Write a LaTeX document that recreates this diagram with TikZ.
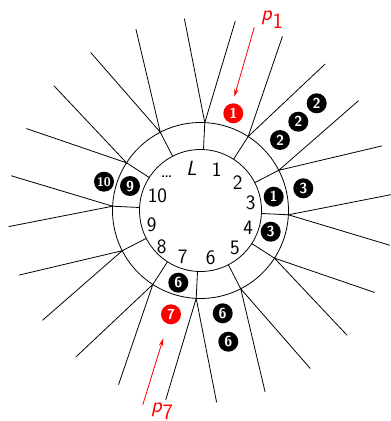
\documentclass[tikz,border=0pt]{standalone}
\usetikzlibrary{arrows.meta}
\begin{document}
\begin{tikzpicture}[x=1pt,y=1pt,
  line width=0.8pt,
  dot/.style={circle,fill=black,text=white,inner sep=0pt,minimum size=20pt,
    font=\sffamily\bfseries\fontsize{14.5}{14.5}\selectfont},
  rdot/.style={dot,fill=red},
  num/.style={font=\sffamily\fontsize{20.5}{22}\selectfont,inner sep=0pt},
  plab/.style={text=red,font=\sffamily\fontsize{22}{24}\selectfont,inner sep=0pt},
  parr/.style={red,-{Stealth[length=8pt,width=4.5pt]},line width=0.8pt}]
\useasboundingbox (-200.5,-210.5) rectangle (190.5,210.5);
\draw (0,0) circle (61);
\draw (0,0) circle (88);
\foreach \k in {0,...,11}{
  \pgfmathsetmacro\a{87.2-30*\k}
  \pgfmathsetmacro\b{\a+7.6}
  \pgfmathsetmacro\c{\a-7.6}
  \coordinate (i\k) at (\a:61);
  \coordinate (j\k) at (\a:88);
  \coordinate (l\k) at (\b:192.5);
  \coordinate (r\k) at (\c:192.5);
  \draw (i\k) -- (j\k);
  \draw (l\k) -- (j\k) -- (r\k);
}
% inner labels
\node[num] (nL) at (-8.8,42.2) {\textit{L}};
\node[num] (n1) at (16.2,41.2) {1};
\node[num] (n2) at (37.2,27.8) {2};
\node[num] (n3) at (50.2,8.2) {3};
\node[num] (n4) at (47.8,-17.2) {4};
\node[num] (n5) at (34.5,-37.8) {5};
\node[num] (n6) at (10.2,-47.2) {6};
\node[num] (n7) at (-17.8,-46.2) {7};
\node[num] (n8) at (-38.8,-36.2) {8};
\node[num] (n9) at (-48.8,-13.8) {9};
\node[num] (n10) at (-43,14.7) {10};
\node[num,anchor=base] (ndots) at (-33.8,33) {\dots};
% circled markers
\node[rdot] (m1r) at (32.8,97.2) {1};
\node[dot] (m2a) at (79.5,70.5) {2};
\node[dot] (m2b) at (97.8,88.8) {2};
\node[dot] (m2c) at (116.2,107.2) {2};
\node[dot] (m3o) at (102.8,22.2) {3};
\node[dot] (m1b) at (73.2,13.8) {1};
\node[dot] (m3r) at (70.2,-21.2) {3};
\node[dot] (m6r) at (-22.2,-72.2) {6};
\node[rdot] (m7r) at (-29.5,-103.8) {7};
\node[dot] (m6a) at (22.2,-102.8) {6};
\node[dot] (m6b) at (27.8,-131.2) {6};
\node[dot] (m9) at (-70.5,24.5) {9};
\node[dot,font=\sffamily\bfseries\fontsize{12.5}{12.5}\selectfont] (m10) at (-96.5,28.8) {10};
% p labels and arrows
\node[plab,anchor=base west] (p1) at (60.2,189.8) {\textit{p}$_{\textsf{1}}$};
\node[plab,anchor=base west] (p7) at (-49.8,-202) {\textit{p}$_{\textsf{7}}$};
\coordinate (p1s) at (53.8,183.2);
\coordinate (p1e) at (33.8,113.8);
\coordinate (p7s) at (-57.8,-194.5);
\coordinate (p7e) at (-37.2,-127.8);
\draw[parr] (p1s) -- (p1e);
\draw[parr] (p7s) -- (p7e);
\end{tikzpicture}
\end{document}
